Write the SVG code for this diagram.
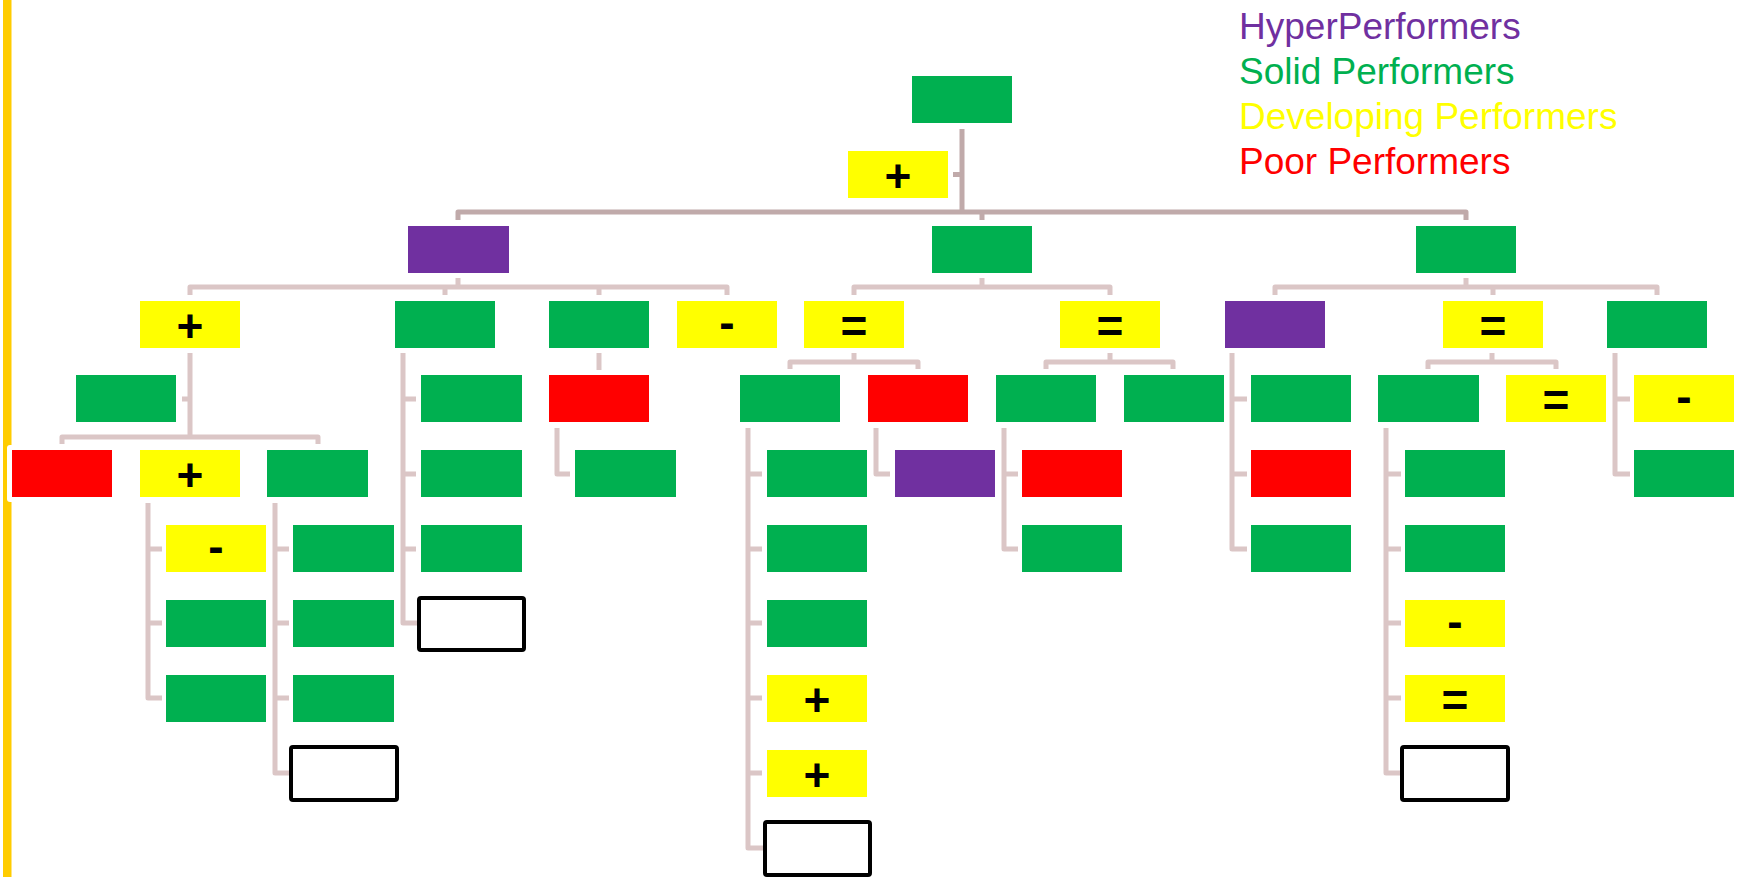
<svg xmlns="http://www.w3.org/2000/svg" width="1737" height="877" viewBox="0 0 1737 877">
<style>
.g{fill:#00B050}.y{fill:#FFFF00}.r{fill:#FF0000}.p{fill:#7030A0}
.o{fill:#FFFFFF;stroke:#000000;stroke-width:4}
.t{font-family:"Liberation Sans",Arial,sans-serif;font-size:46px;font-weight:bold;text-anchor:middle;fill:#000000}
.lg{font-family:"Liberation Sans",Arial,sans-serif;font-size:37px}
.c1{fill:none;stroke:#C0AAAA;stroke-width:5;stroke-linejoin:round}
.c2{fill:none;stroke:#DBC6C6;stroke-width:5;stroke-linejoin:round}
</style>
<rect x="0" y="0" width="1737" height="877" fill="#FFFFFF"/>
<rect x="3" y="0" width="8.5" height="877" fill="#FFCC00"/>
<g id="legend">
<text class="lg" x="1239" y="39" fill="#7030A0">HyperPerformers</text>
<text class="lg" x="1239" y="84" fill="#00B050">Solid Performers</text>
<text class="lg" x="1239" y="129" fill="#FFFF00">Developing Performers</text>
<text class="lg" x="1239" y="174" fill="#FF0000">Poor Performers</text>
</g>
<g id="connectors">
<path class="c1" d="M962,129 V212 M458,220 V212 H1466 V220 M982,212 V220 M953,174.5 H962"/>
<path class="c2" d="M458,278 V287 M190,295 V287 H727 V295 M445,287 V295 M599,287 V295"/>
<path class="c2" d="M982,278 V287 M854,295 V287 H1110 V295"/>
<path class="c2" d="M1466,278 V287 M1275,295 V287 H1657 V295 M1493,287 V295"/>
<path class="c2" d="M190,353 V437 M182,399 H190 M62,444 V437 H318 V444"/>
<path class="c2" d="M403,353 V623 H417 M403,399 H416 M403,474 H416 M403,549 H416"/>
<path class="c2" d="M599,353 V370"/>
<path class="c2" d="M557,428 V474 H570"/>
<path class="c2" d="M854,353 V362 M790,369 V362 H918 V369"/>
<path class="c2" d="M748,428 V848 H763 M748,474 H762 M748,549 H762 M748,623 H762 M748,698 H762 M748,773 H762"/>
<path class="c2" d="M876,428 V474 H890"/>
<path class="c2" d="M1110,353 V362 M1046,369 V362 H1173 V369"/>
<path class="c2" d="M1004,428 V549 H1018 M1004,474 H1018"/>
<path class="c2" d="M1232,353 V549 H1247 M1232,399 H1247 M1232,474 H1247"/>
<path class="c2" d="M1492,353 V362 M1428,369 V362 H1556 V369"/>
<path class="c2" d="M1386,428 V773 H1400 M1386,474 H1401 M1386,549 H1401 M1386,623 H1401 M1386,698 H1401"/>
<path class="c2" d="M1615,353 V474 H1630 M1615,399 H1630"/>
<path class="c2" d="M148,503 V698 H162 M148,549 H162 M148,623 H162"/>
<path class="c2" d="M275,503 V773 H289 M275,549 H289 M275,623 H289 M275,698 H289"/>
</g>
<g id="root"><rect class="g" x="912" y="76" width="100" height="47"/></g>
<g id="assistant"><rect class="y" x="848" y="151" width="100" height="47"/><text class="t" x="898" y="192">+</text></g>
<g id="n_a"><rect class="p" x="408" y="226" width="101" height="47"/></g>
<g id="n_b"><rect class="g" x="932" y="226" width="100" height="47"/></g>
<g id="n_c"><rect class="g" x="1416" y="226" width="100" height="47"/></g>
<g id="a1"><rect class="y" x="140" y="301" width="100" height="47"/><text class="t" x="190" y="342">+</text></g>
<g id="a2"><rect class="g" x="395" y="301" width="100" height="47"/></g>
<g id="a3"><rect class="g" x="549" y="301" width="100" height="47"/></g>
<g id="a4"><rect class="y" x="677" y="301" width="100" height="47"/><text class="t" x="727" y="338">-</text></g>
<g id="b1"><rect class="y" x="804" y="301" width="100" height="47"/><text class="t" x="854" y="342">=</text></g>
<g id="b2"><rect class="y" x="1060" y="301" width="100" height="47"/><text class="t" x="1110" y="342">=</text></g>
<g id="c1"><rect class="p" x="1225" y="301" width="100" height="47"/></g>
<g id="c2"><rect class="y" x="1443" y="301" width="100" height="47"/><text class="t" x="1493" y="342">=</text></g>
<g id="c3"><rect class="g" x="1607" y="301" width="100" height="47"/></g>
<g id="a1x"><rect class="g" x="76" y="375" width="100" height="47"/></g>
<g id="a2_1"><rect class="g" x="421" y="375" width="101" height="47"/></g>
<g id="a3_1"><rect class="r" x="549" y="375" width="100" height="47"/></g>
<g id="b1_1"><rect class="g" x="740" y="375" width="100" height="47"/></g>
<g id="b1_2"><rect class="r" x="868" y="375" width="100" height="47"/></g>
<g id="b2_1"><rect class="g" x="996" y="375" width="100" height="47"/></g>
<g id="b2_2"><rect class="g" x="1124" y="375" width="100" height="47"/></g>
<g id="c1_1"><rect class="g" x="1251" y="375" width="100" height="47"/></g>
<g id="c2_1"><rect class="g" x="1378" y="375" width="101" height="47"/></g>
<g id="c2_2"><rect class="y" x="1506" y="375" width="100" height="47"/><text class="t" x="1556" y="416">=</text></g>
<g id="c3_1"><rect class="y" x="1634" y="375" width="100" height="47"/><text class="t" x="1684" y="412">-</text></g>
<g id="a1_1"><rect x="7" y="445" width="110" height="57" rx="3" fill="#FFFFFF"/><rect class="r" x="12" y="450" width="100" height="47"/></g>
<g id="a1_2"><rect class="y" x="140" y="450" width="100" height="47"/><text class="t" x="190" y="491">+</text></g>
<g id="a1_3"><rect class="g" x="267" y="450" width="101" height="47"/></g>
<g id="a2_2"><rect class="g" x="421" y="450" width="101" height="47"/></g>
<g id="a3_1_1"><rect class="g" x="575" y="450" width="101" height="47"/></g>
<g id="b1_1_1"><rect class="g" x="767" y="450" width="100" height="47"/></g>
<g id="b1_2_1"><rect class="p" x="895" y="450" width="100" height="47"/></g>
<g id="b2_1_1"><rect class="r" x="1022" y="450" width="100" height="47"/></g>
<g id="c1_2"><rect class="r" x="1251" y="450" width="100" height="47"/></g>
<g id="c2_1_1"><rect class="g" x="1405" y="450" width="100" height="47"/></g>
<g id="c3_2"><rect class="g" x="1634" y="450" width="100" height="47"/></g>
<g id="a1_2_1"><rect class="y" x="166" y="525" width="100" height="47"/><text class="t" x="216" y="562">-</text></g>
<g id="a1_3_1"><rect class="g" x="293" y="525" width="101" height="47"/></g>
<g id="a2_3"><rect class="g" x="421" y="525" width="101" height="47"/></g>
<g id="b1_1_2"><rect class="g" x="767" y="525" width="100" height="47"/></g>
<g id="b2_1_2"><rect class="g" x="1022" y="525" width="100" height="47"/></g>
<g id="c1_3"><rect class="g" x="1251" y="525" width="100" height="47"/></g>
<g id="c2_1_2"><rect class="g" x="1405" y="525" width="100" height="47"/></g>
<g id="a1_2_2"><rect class="g" x="166" y="600" width="100" height="47"/></g>
<g id="a1_3_2"><rect class="g" x="293" y="600" width="101" height="47"/></g>
<g id="a2_4"><rect class="o" x="419" y="598" width="105" height="52" rx="2"/></g>
<g id="b1_1_3"><rect class="g" x="767" y="600" width="100" height="47"/></g>
<g id="c2_1_3"><rect class="y" x="1405" y="600" width="100" height="47"/><text class="t" x="1455" y="637">-</text></g>
<g id="a1_2_3"><rect class="g" x="166" y="675" width="100" height="47"/></g>
<g id="a1_3_3"><rect class="g" x="293" y="675" width="101" height="47"/></g>
<g id="b1_1_4"><rect class="y" x="767" y="675" width="100" height="47"/><text class="t" x="817" y="716">+</text></g>
<g id="c2_1_4"><rect class="y" x="1405" y="675" width="100" height="47"/><text class="t" x="1455" y="716">=</text></g>
<g id="a1_3_4"><rect class="o" x="291" y="747" width="106" height="53" rx="2"/></g>
<g id="b1_1_5"><rect class="y" x="767" y="750" width="100" height="47"/><text class="t" x="817" y="791">+</text></g>
<g id="c2_1_5"><rect class="o" x="1402" y="747" width="106" height="53" rx="2"/></g>
<g id="b1_1_6"><rect class="o" x="765" y="822" width="105" height="53" rx="2"/></g>
</svg>
